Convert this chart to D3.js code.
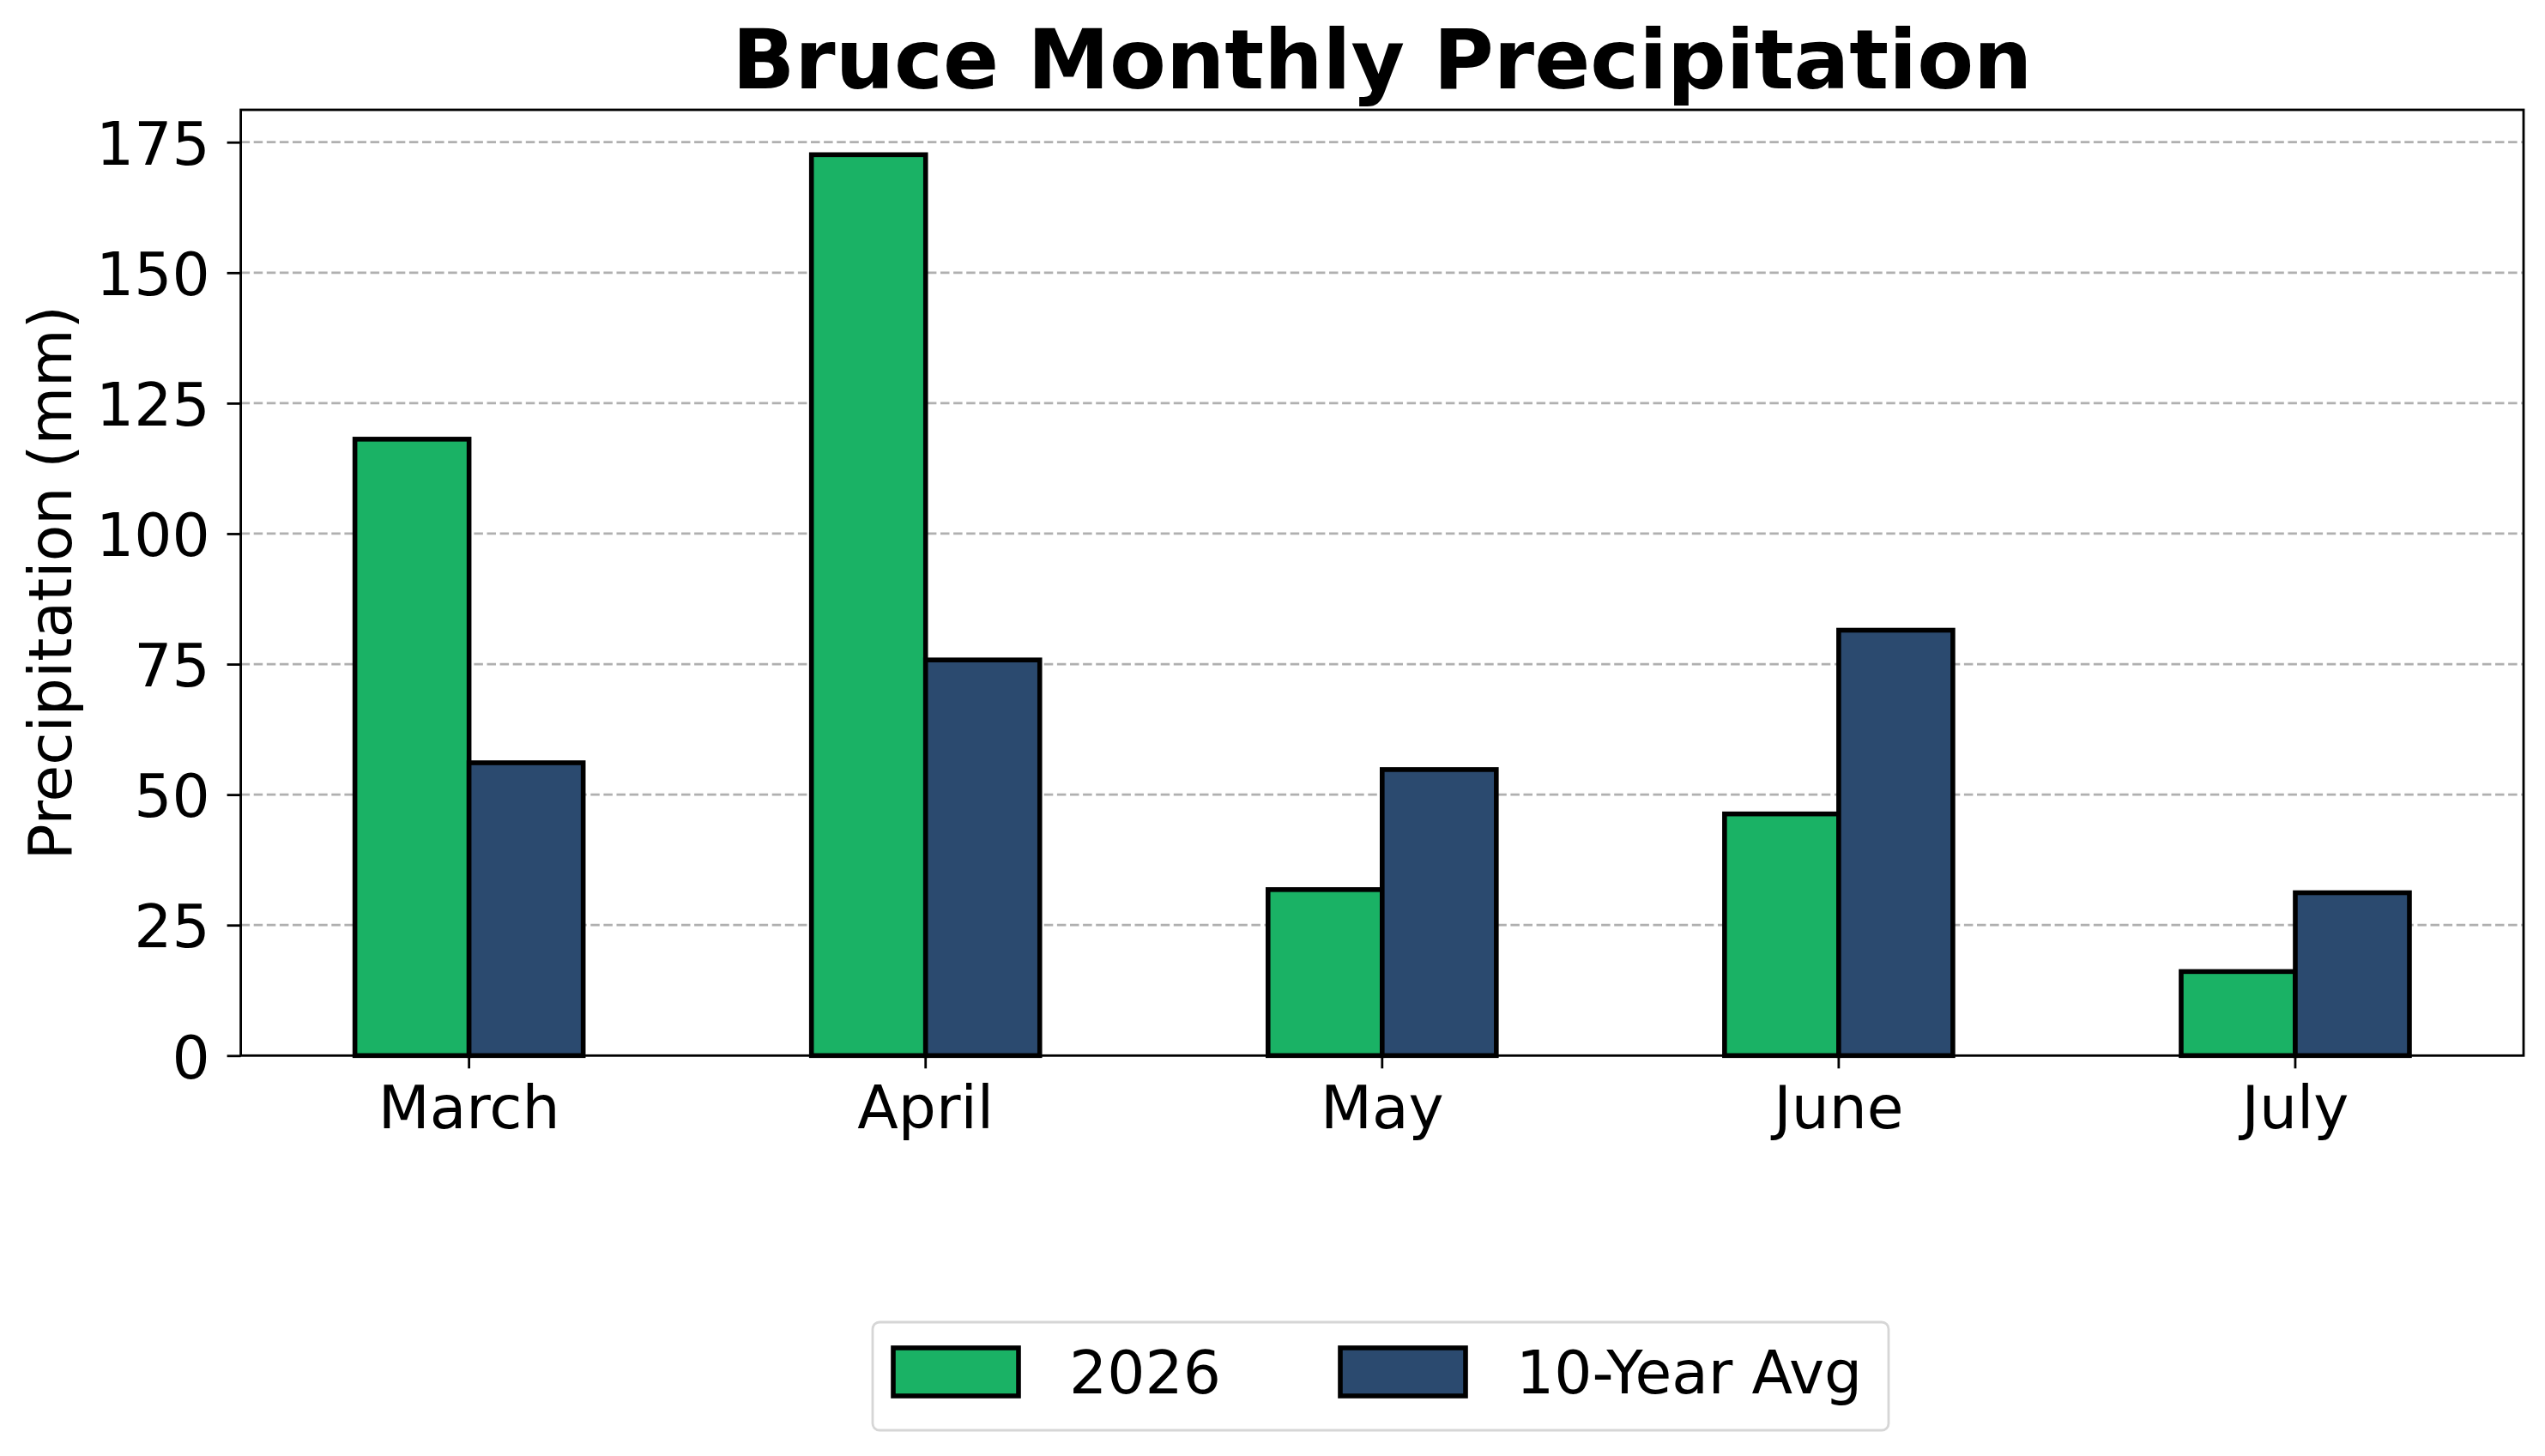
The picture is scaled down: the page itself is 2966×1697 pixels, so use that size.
<!DOCTYPE html>
<html>
<head>
<meta charset="utf-8">
<script src="https://cdn.jsdelivr.net/npm/d3@7"></script>
<style>
  html, body { margin: 0; padding: 0; background: #ffffff; }
  svg { display: block; font-family: "DejaVu Sans", sans-serif; }
</style>
</head>
<body>
<script>
// ---- data ----
const months = ["March", "April", "May", "June", "July"];
const precip2026 = [118.1, 172.6, 31.8, 46.3, 16.1];
const precipAvg = [56.1, 75.8, 54.8, 81.5, 31.2];
const seriesNames = ["2026", "10-Year Avg"];
const seriesColors = ["#1ab265", "#2b4a6f"];
const yTicks = [0, 25, 50, 75, 100, 125, 150, 175];
const titleText = "Bruce Monthly Precipitation";
const yLabelText = "Precipitation (mm)";

(function () {
// ---- layout ----
const W = 2966, H = 1697;
const mLeft = 280.6, mRight = 2941, mTop = 128, mBottom = 1230.3;
const fontPx = 69.5;

const svg = d3.select("body").append("svg")
  .attr("width", W).attr("height", H)
  .attr("viewBox", `0 0 ${W} ${H}`);

svg.append("rect").attr("width", W).attr("height", H).attr("fill", "#ffffff");

const x = d3.scaleBand().domain(months).range([mLeft, mRight]).paddingInner(0).paddingOuter(0);
const y = d3.scaleLinear().domain([0, 181.2]).range([mBottom, mTop]);
const step = x.step();
const barW = step * 0.25;

// grid lines
const grid = svg.append("g");
grid.selectAll("line").data(yTicks.filter(d => d > 0)).enter().append("line")
  .attr("x1", mLeft).attr("x2", mRight)
  .attr("y1", d => y(d)).attr("y2", d => y(d))
  .attr("stroke", "#b0b0b0").attr("stroke-width", 2.8)
  .attr("stroke-dasharray", "10.5,4.6");

// bars
const series = [precip2026, precipAvg];
series.forEach((vals, si) => {
  svg.append("g").selectAll("rect").data(months).enter().append("rect")
    .attr("x", (m) => x(m) + step / 2 + (si === 0 ? -barW : 0))
    .attr("width", barW)
    .attr("y", (m, i) => y(vals[i]))
    .attr("height", (m, i) => y(0) - y(vals[i]))
    .attr("fill", seriesColors[si])
    .attr("stroke", "#000000")
    .attr("stroke-width", 5.6);
});

// axes
const yAxis = d3.axisLeft(y).tickValues(yTicks).tickSize(16).tickPadding(20).tickFormat(d3.format("d"));
const gy = svg.append("g").attr("transform", `translate(${mLeft},0)`).call(yAxis);
gy.select(".domain").remove();
gy.selectAll(".tick line").attr("stroke", "#000").attr("stroke-width", 2.8);
gy.selectAll(".tick text").attr("font-size", fontPx).attr("fill", "#000")
  .attr("font-family", "DejaVu Sans").attr("dy", "0.37em");

const xAxis = d3.axisBottom(x).tickSize(15).tickPadding(20);
const gx = svg.append("g").attr("transform", `translate(0,${mBottom})`).call(xAxis);
gx.select(".domain").remove();
gx.selectAll(".tick line").attr("stroke", "#000").attr("stroke-width", 2.8);
gx.selectAll(".tick text").attr("font-size", fontPx).attr("fill", "#000")
  .attr("font-family", "DejaVu Sans").attr("dy", "0.71em");

// frame
svg.append("rect").attr("x", mLeft).attr("y", mTop)
  .attr("width", mRight - mLeft).attr("height", mBottom - mTop)
  .attr("fill", "none").attr("stroke", "#000").attr("stroke-width", 2.8);

// title
svg.append("text").attr("x", (mLeft + mRight) / 2).attr("y", 103)
  .attr("text-anchor", "middle").attr("font-size", 96).attr("font-weight", "bold")
  .attr("fill", "#000").text(titleText);

// y label
svg.append("text")
  .attr("transform", `translate(83,${(mTop + mBottom) / 2}) rotate(-90)`)
  .attr("text-anchor", "middle").attr("font-size", fontPx).attr("fill", "#000")
  .text(yLabelText);

// legend
const legX = 1017, legY = 1541, legW = 1184, legH = 126;
const leg = svg.append("g");
leg.append("rect").attr("x", legX).attr("y", legY).attr("width", legW).attr("height", legH)
  .attr("rx", 8).attr("fill", "#ffffff").attr("stroke", "#d6d6d6").attr("stroke-width", 2.8);
const itemX = [1041, 1562];
seriesNames.forEach((name, i) => {
  leg.append("rect").attr("x", itemX[i]).attr("y", 1571).attr("width", 146).attr("height", 56)
    .attr("fill", seriesColors[i]).attr("stroke", "#000").attr("stroke-width", 5.6);
  leg.append("text").attr("x", itemX[i] + 205).attr("y", 1623.5)
    .attr("font-size", fontPx).attr("fill", "#000").text(name);
});
})();
</script>
</body>
</html>
